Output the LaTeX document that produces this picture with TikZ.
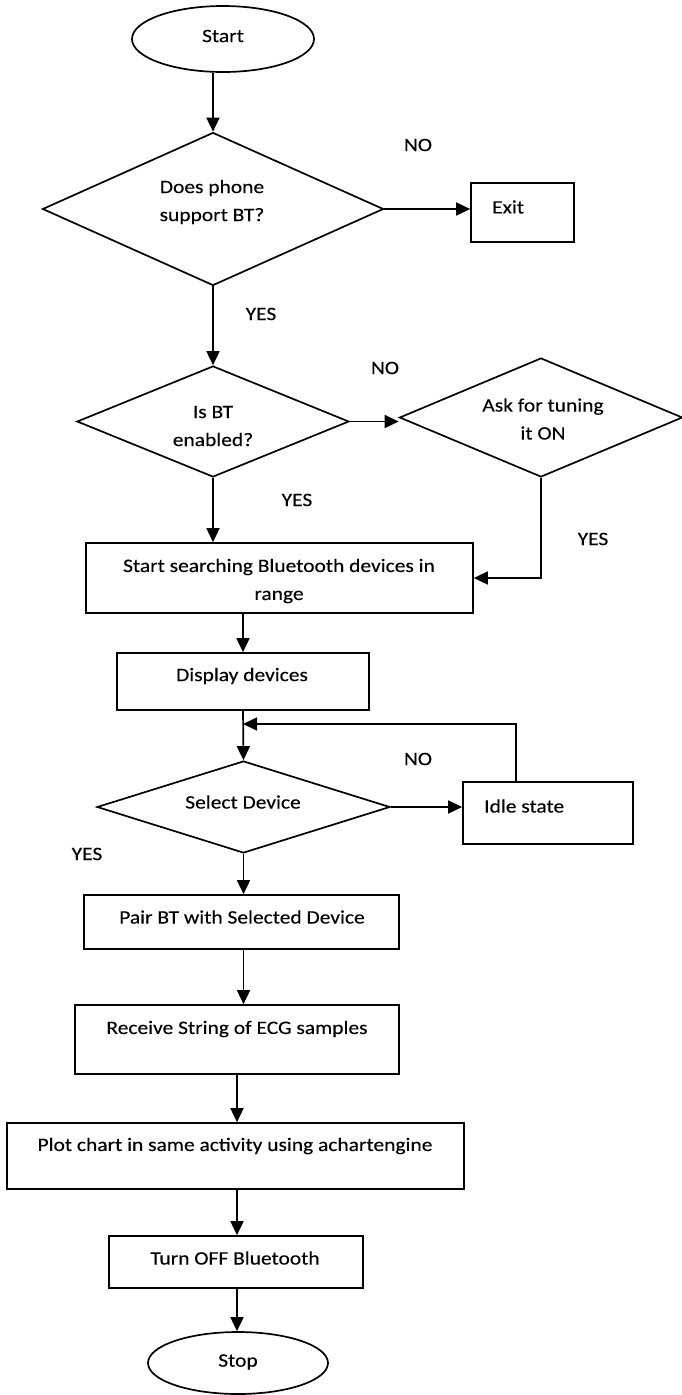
\documentclass[tikz,border=0pt]{standalone}
\usepackage{fontspec}
\setmainfont{Carlito}[FakeStretch=1.13,FakeBold=0.15]
\usetikzlibrary{arrows.meta,shapes.geometric,calc}
\begin{document}
\begin{tikzpicture}[x=1pt,y=-1pt,
  every node/.style={font=\fontsize{19}{28}\selectfont},
  shp/.style={draw,line width=1.7pt,inner sep=0pt},
  boxr/.style={shp,rectangle},
  ellp/.style={shp,ellipse},
  dia/.style={shp,diamond},
  lbl/.style={inner sep=0pt,align=center},
  flow/.style={line width=1.7pt,-{Triangle[length=14pt,width=13pt]}}]
\useasboundingbox (0,0) rectangle (682,1395);
% shapes
\node[ellp,minimum width=182,minimum height=66] (start) at (223,39) {};
\node[dia,minimum width=341,minimum height=153] (d1) at (213,209) {};
\node[boxr,minimum width=103,minimum height=59] (exit) at (522.5,212.5) {};
\node[dia,minimum width=272,minimum height=111] (d2) at (213,421.5) {};
\node[dia,minimum width=283,minimum height=119] (d3) at (541,417.5) {};
\node[boxr,minimum width=387,minimum height=70] (search) at (279.5,578) {};
\node[boxr,minimum width=252,minimum height=57] (display) at (243,681.5) {};
\node[dia,minimum width=293,minimum height=92] (d4) at (243.5,807) {};
\node[boxr,minimum width=170,minimum height=62] (idle) at (548,813) {};
\node[boxr,minimum width=315,minimum height=54] (pair) at (241.5,922) {};
\node[boxr,minimum width=324,minimum height=69] (receive) at (237,1039.5) {};
\node[boxr,minimum width=457,minimum height=66] (plot) at (235.5,1156) {};
\node[boxr,minimum width=254,minimum height=52] (turnoff) at (236,1262) {};
\node[ellp,minimum width=180,minimum height=62] (stop) at (238,1363) {};
% texts
\node[lbl] (tstart) at (223,36) {Start};
\node[lbl] (td1) at (212,202) {Does phone\\support BT?};
\node[lbl,anchor=west] (texit) at (492,207) {Exit};
\node[lbl] (no1) at (418,145) {NO};
\node[lbl] (yes1) at (261,314) {YES};
\node[lbl] (td2) at (213,426) {Is BT\\enabled?};
\node[lbl] (no2) at (385,368) {NO};
\node[lbl] (td3) at (543,419) {Ask for tuning\\it ON};
\node[lbl] (yes2) at (297,500) {YES};
\node[lbl] (yes3) at (593,539) {YES};
\node[lbl] (tsearch) at (279,581) {Start searching Bluetooth devices in\\range};
\node[lbl] (tdisplay) at (242,676) {Display devices};
\node[lbl] (no3) at (418,759) {NO};
\node[lbl] (td4) at (243,802) {Select Device};
\node[lbl,anchor=west] (tidle) at (484,806) {Idle state};
\node[lbl] (yes4) at (87,854) {YES};
\node[lbl] (tpair) at (242,917) {Pair BT with Selected Device};
\node[lbl] (treceive) at (237,1029) {Receive String of ECG samples};
\node[lbl] (tplot) at (235,1146) {Plot chart in same activity using achartengine};
\node[lbl] (tturnoff) at (235,1258) {Turn OFF Bluetooth};
\node[lbl] (tstop) at (238,1362) {Stop};
% connectors
\draw[flow] (d1.north |- start.south) -- (d1.north);
\draw[flow] (d1.east) -- (d1.east -| exit.west);
\draw[flow] (d1.south) -- (d2.north);
\draw[flow] (d2.east) -- (d2.east -| d3.west);
\draw[flow] (d3.south) |- (search.east);
\draw[flow] (d2.south) -- (d2.south |- search.north);
\draw[flow] (display.north |- search.south) -- (display.north);
\draw[flow] (display.south) -- (d4.north);
\coordinate (join) at (243,724);
\draw[flow] ([xshift=-32pt]idle.north) |- (join);
\draw[flow] (d4.east) -- (d4.east -| idle.west);
\draw[flow] (d4.south) -- (d4.south |- pair.north);
\draw[flow] (d4.south |- pair.south) -- (d4.south |- receive.north);
\draw[flow] (receive.south) -- (receive.south |- plot.north);
\draw[flow] (receive.south |- plot.south) -- (receive.south |- turnoff.north);
\draw[flow] (receive.south |- turnoff.south) -- (receive.south |- stop.north);
\end{tikzpicture}
\end{document}
